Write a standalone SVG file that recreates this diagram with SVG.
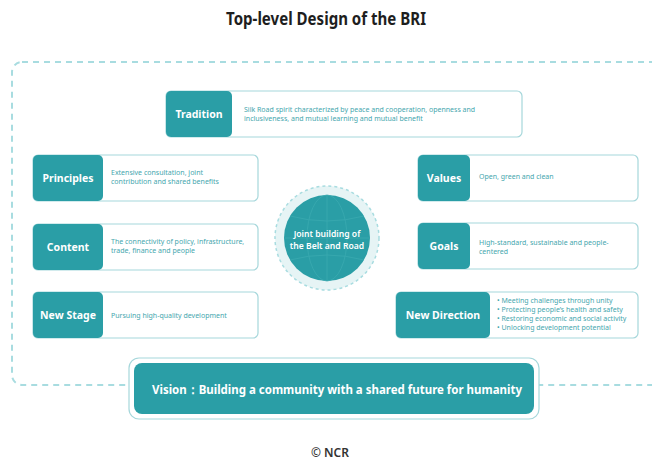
<svg xmlns="http://www.w3.org/2000/svg" width="652" height="462" viewBox="0 0 652 462">
<defs>
<style>
.lbl{fill:#2a9ea6}
.box{fill:#fff;stroke:#a6d7db;stroke-width:1.2}
.lt{font-family:"Noto Sans","Open Sans",sans-serif;font-weight:700;font-size:10.5px;fill:#fff;text-anchor:middle}
.dt{font-family:"Noto Sans","Open Sans",sans-serif;font-size:7px;fill:#45a6ae}
.frame{fill:none;stroke:#a8dce0;stroke-width:2;stroke-dasharray:6 5}
.ct{font-family:"Noto Sans","Open Sans",sans-serif;font-weight:600;font-size:8.6px;fill:#fff;text-anchor:middle}
</style>
</defs>
<rect width="652" height="462" fill="#fff"/>
<text x="326" y="25" text-anchor="middle" font-family="'Noto Sans','Open Sans',sans-serif" font-weight="700" font-size="17" fill="#1e1e1e" textLength="200" lengthAdjust="spacingAndGlyphs">Top-level Design of the BRI</text>

<g id="connectors">
<rect class="frame" x="12" y="62" width="680" height="323" rx="10"/>
</g>

<g id="tradition">
<rect class="box" x="166" y="91" width="356" height="46" rx="5"/>
<rect class="lbl" x="166" y="91" width="66" height="46" rx="5"/>
<text class="lt" x="199" y="118">Tradition</text>
<text class="dt" x="244" y="112">Silk Road spirit characterized by peace and cooperation, openness and</text>
<text class="dt" x="244" y="121">inclusiveness, and mutual learning and mutual benefit</text>
</g>

<g id="principles">
<rect class="box" x="33" y="155" width="225" height="46" rx="5"/>
<rect class="lbl" x="33" y="155" width="70" height="46" rx="5"/>
<text class="lt" x="68" y="182">Principles</text>
<text class="dt" x="111" y="175">Extensive consultation, joint</text>
<text class="dt" x="111" y="184">contribution and shared benefits</text>
</g>

<g id="content">
<rect class="box" x="33" y="224" width="225" height="46" rx="5"/>
<rect class="lbl" x="33" y="224" width="70" height="46" rx="5"/>
<text class="lt" x="68" y="251">Content</text>
<text class="dt" x="111" y="244">The connectivity of policy, infrastructure,</text>
<text class="dt" x="111" y="253">trade, finance and people</text>
</g>

<g id="newstage">
<rect class="box" x="33" y="292" width="225" height="46" rx="5"/>
<rect class="lbl" x="33" y="292" width="70" height="46" rx="5"/>
<text class="lt" x="68" y="319">New Stage</text>
<text class="dt" x="111" y="318">Pursuing high-quality development</text>
</g>

<g id="values">
<rect class="box" x="418" y="155" width="220" height="46" rx="5"/>
<rect class="lbl" x="418" y="155" width="52" height="46" rx="5"/>
<text class="lt" x="444" y="182">Values</text>
<text class="dt" x="479" y="179">Open, green and clean</text>
</g>

<g id="goals">
<rect class="box" x="418" y="223" width="220" height="46" rx="5"/>
<rect class="lbl" x="418" y="223" width="52" height="46" rx="5"/>
<text class="lt" x="444" y="250">Goals</text>
<text class="dt" x="479" y="245">High-standard, sustainable and people-</text>
<text class="dt" x="479" y="254">centered</text>
</g>

<g id="newdirection">
<rect class="box" x="396" y="292" width="242" height="46" rx="5"/>
<rect class="lbl" x="396" y="292" width="94" height="46" rx="5"/>
<text class="lt" x="443" y="319">New Direction</text>
<text class="dt" x="497" y="303">• Meeting challenges through unity</text>
<text class="dt" x="497" y="312">• Protecting people’s health and safety</text>
<text class="dt" x="497" y="321">• Restoring economic and social activity</text>
<text class="dt" x="497" y="330">• Unlocking development potential</text>
</g>

<g id="center">
<circle cx="327" cy="238" r="52" fill="#e6f4f5" stroke="#a8dce0" stroke-width="1.5" stroke-dasharray="3 3"/>
<circle cx="327" cy="238" r="43" fill="#2a9ea6"/>
<g fill="none" stroke="#3aa9b0" stroke-width="0.8">
<ellipse cx="327" cy="238" rx="20" ry="43"/>
<line x1="327" y1="195" x2="327" y2="281"/>
<line x1="284" y1="238" x2="370" y2="238"/>
<path d="M290 216 Q327 226 364 216 M290 260 Q327 250 364 260"/>
</g>
<text class="ct" x="327" y="237">Joint building of</text>
<text class="ct" x="327" y="249">the Belt and Road</text>
</g>

<g id="vision">
<rect x="129" y="358" width="410" height="61" rx="10" fill="#fff" stroke="#a6d7db" stroke-width="1.2"/>
<rect x="134" y="363" width="400" height="51" rx="8" fill="#2a9ea6"/>
<text x="152" y="394" font-family="'Noto Sans','Open Sans',sans-serif" font-weight="700" font-size="12.5" fill="#fff" textLength="370" lengthAdjust="spacingAndGlyphs">Vision：Building a community with a shared future for humanity</text>
</g>

<text x="330" y="457" text-anchor="middle" font-family="'Noto Sans','Open Sans',sans-serif" font-weight="600" font-size="12" fill="#333">© NCR</text>
</svg>
